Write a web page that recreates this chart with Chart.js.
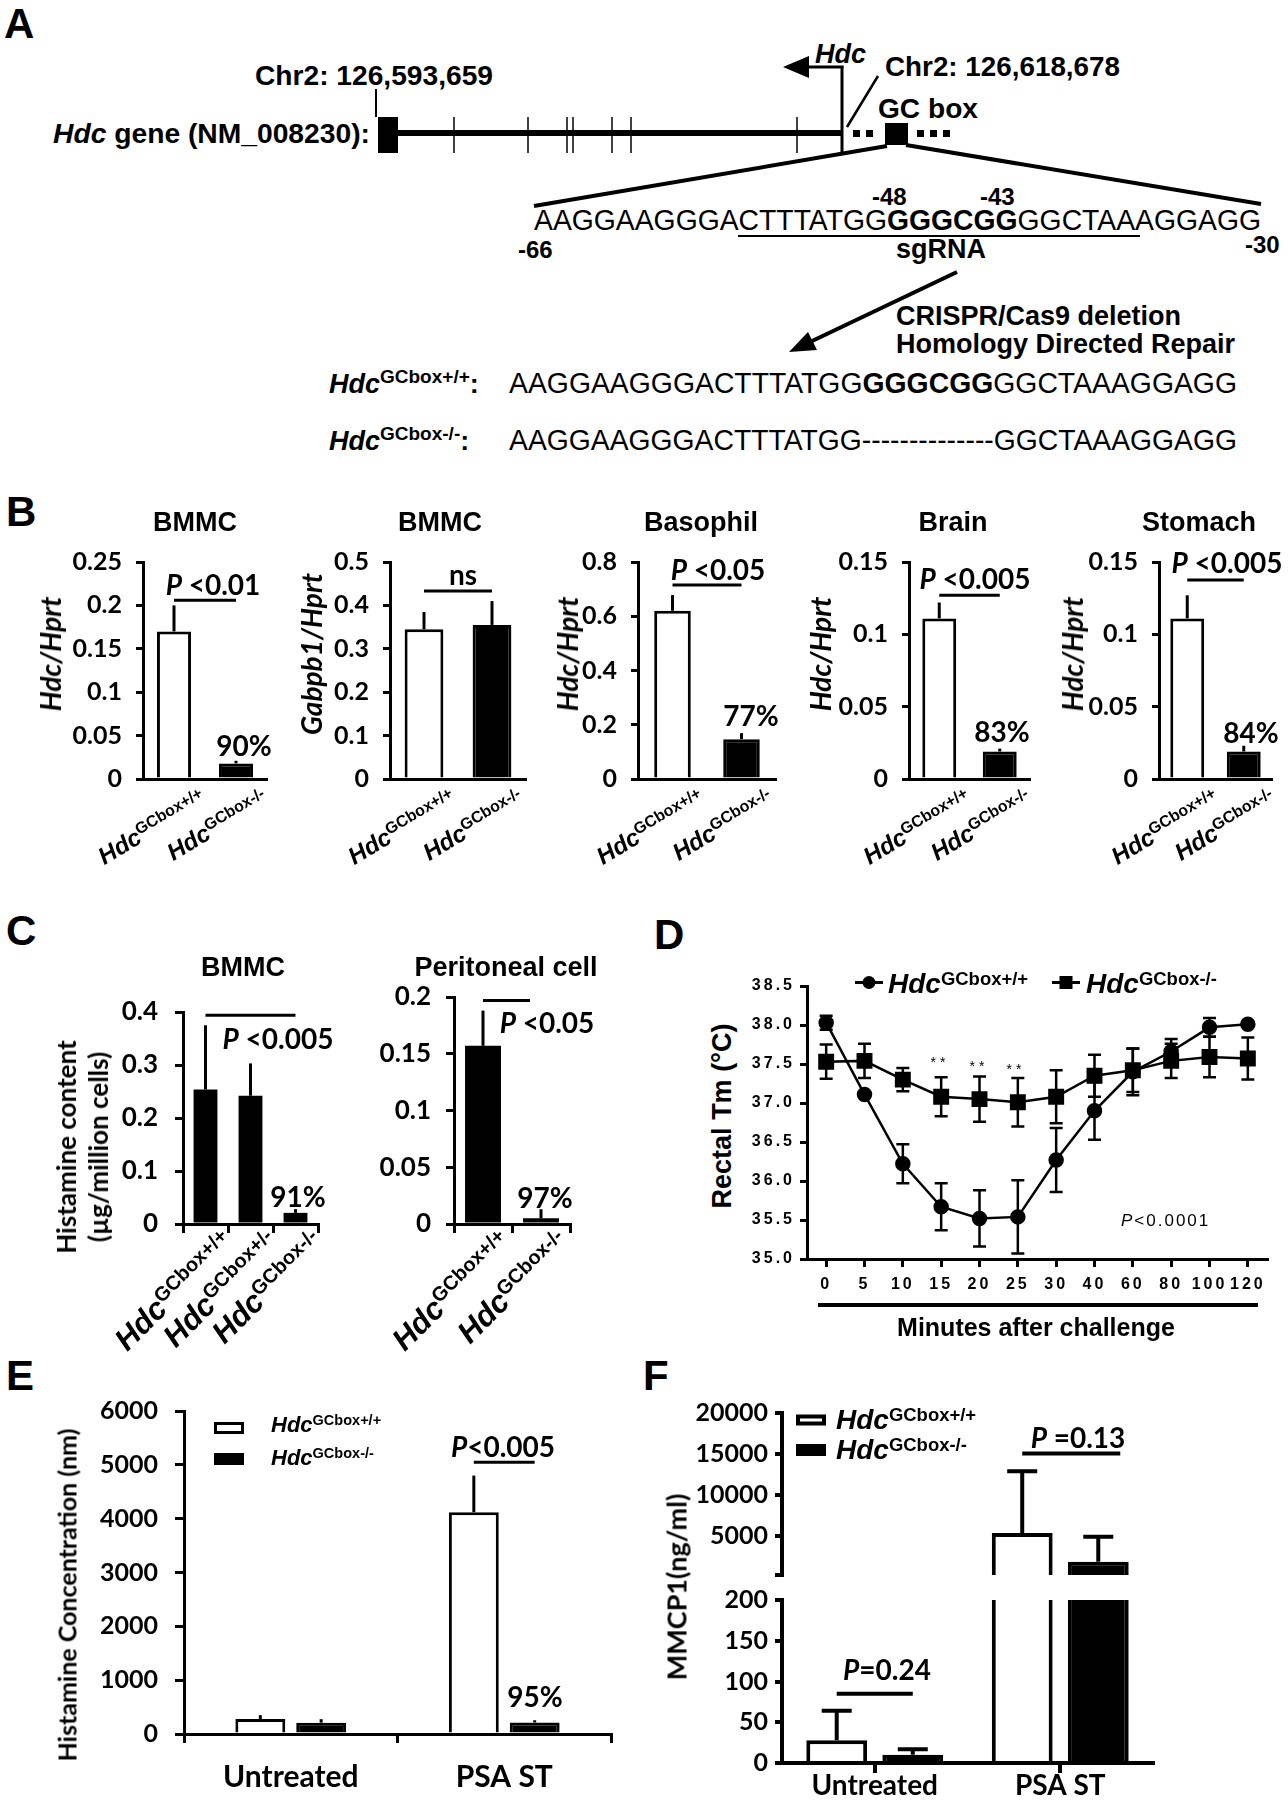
<!DOCTYPE html>
<html>
<head>
<meta charset="utf-8">
<title>Hdc GC box knockout</title>
<script src="https://cdn.jsdelivr.net/npm/chart.js@4.4.1/dist/chart.umd.min.js"></script>
<style>
  body { margin: 0; background: #fff; }
  #page { position: relative; width: 1288px; height: 1800px; overflow: hidden; background: #fff; color: #000; }
  #page canvas { position: absolute; }
  .t { position: absolute; white-space: nowrap; line-height: 1; }
  .ar { font-family: 'Liberation Sans', Arial, sans-serif; font-weight: bold; }
  .lt { font-family: Lato, 'Liberation Sans', sans-serif; font-weight: bold; }
  .sp { font-family: 'Liberation Sans', Arial, sans-serif; font-style: normal; font-weight: bold; font-size: 0.66em; position: relative; top: -0.45em; }
  .box { width: 24px; height: 6px; border: 3px solid #000; }
</style>
</head>
<body>
<div id="page">
<svg width="1288" height="470" style="position:absolute;left:0;top:0" font-family="'Liberation Sans', Arial, sans-serif" fill="#000" stroke="none">
  <text x="4" y="38" font-size="42" font-weight="bold">A</text>
  <text x="255" y="85" font-size="27" font-weight="bold" textLength="238" lengthAdjust="spacingAndGlyphs">Chr2: 126,593,659</text>
  <line x1="376" y1="89" x2="376" y2="117" stroke="#000" stroke-width="2"/>
  <text x="53" y="143" font-size="27" font-weight="bold" textLength="317" lengthAdjust="spacingAndGlyphs"><tspan font-style="italic">Hdc</tspan> gene (NM_008230):</text>
  <rect x="378" y="117" width="20" height="36"/>
  <line x1="398" y1="133" x2="842" y2="133" stroke="#000" stroke-width="6"/>
  <g stroke="#000" stroke-width="1.5">
    <line x1="454" y1="117" x2="454" y2="153"/>
    <line x1="528" y1="117" x2="528" y2="153"/>
    <line x1="567" y1="117" x2="567" y2="153"/>
    <line x1="573" y1="117" x2="573" y2="153"/>
    <line x1="612" y1="117" x2="612" y2="153"/>
    <line x1="631" y1="117" x2="631" y2="153"/>
    <line x1="797" y1="117" x2="797" y2="153"/>
  </g>
  <line x1="842" y1="66" x2="842" y2="153" stroke="#000" stroke-width="3"/>
  <line x1="806" y1="67" x2="843.5" y2="67" stroke="#000" stroke-width="3"/>
  <polygon points="783,67 809,56 809,78"/>
  <text x="815" y="63" font-size="27" font-weight="bold" font-style="italic">Hdc</text>
  <text x="885" y="76" font-size="28" font-weight="bold" textLength="235" lengthAdjust="spacingAndGlyphs">Chr2: 126,618,678</text>
  <line x1="847" y1="127" x2="878" y2="76" stroke="#000" stroke-width="2.5"/>
  <rect x="853" y="130" width="7" height="7"/>
  <rect x="866" y="130" width="7" height="7"/>
  <rect x="885" y="123" width="23" height="22"/>
  <rect x="917" y="130" width="7" height="7"/>
  <rect x="930" y="130" width="7" height="7"/>
  <rect x="943" y="130" width="7" height="7"/>
  <text x="878" y="118" font-size="27" font-weight="bold" textLength="100" lengthAdjust="spacingAndGlyphs">GC box</text>
  <line x1="887" y1="146" x2="534" y2="206" stroke="#000" stroke-width="4"/>
  <line x1="906" y1="145" x2="1261" y2="204" stroke="#000" stroke-width="4"/>
  <text x="872" y="205" font-size="24" font-weight="bold">-48</text>
  <text x="980" y="205" font-size="24" font-weight="bold">-43</text>
  <text x="534" y="230" font-size="29" textLength="727" lengthAdjust="spacingAndGlyphs">AAGGAAGGGACTTTATGG<tspan font-weight="bold">GGGCGG</tspan>GGCTAAAGGAGG</text>
  <line x1="738" y1="236" x2="1140" y2="236" stroke="#000" stroke-width="2"/>
  <text x="518" y="258" font-size="24" font-weight="bold">-66</text>
  <text x="896" y="258" font-size="27" font-weight="bold">sgRNA</text>
  <text x="1245" y="253" font-size="24" font-weight="bold">-30</text>
  <line x1="957" y1="272" x2="810" y2="342" stroke="#000" stroke-width="4"/>
  <polygon points="789,352 817,350 808,332"/>
  <text x="896" y="325" font-size="27" font-weight="bold">CRISPR/Cas9 deletion</text>
  <text x="896" y="353" font-size="27" font-weight="bold">Homology Directed Repair</text>
  <text x="329" y="393" font-size="27" font-weight="bold"><tspan font-style="italic">Hdc</tspan><tspan font-size="19" dy="-10">GCbox+/+</tspan><tspan dy="10">:</tspan></text>
  <text x="509" y="393" font-size="29" textLength="728" lengthAdjust="spacingAndGlyphs">AAGGAAGGGACTTTATGG<tspan font-weight="bold">GGGCGG</tspan>GGCTAAAGGAGG</text>
  <text x="329" y="450" font-size="27" font-weight="bold"><tspan font-style="italic">Hdc</tspan><tspan font-size="19" dy="-10">GCbox-/-</tspan><tspan dy="10">:</tspan></text>
  <text x="509" y="450" font-size="29" textLength="728" lengthAdjust="spacingAndGlyphs">AAGGAAGGGACTTTATGG--------------GGCTAAAGGAGG</text>
</svg>
</div>
<script>
// ---- B: Hdc (and Gabpb1) mRNA relative to Hprt ----
const genoB = ['GCbox+/+', 'GCbox-/-'];
const bmmcHdc = [0.17, 0.018];
const bmmcHdcErr = [0.03, 0.003];
const bmmcGabpb1 = [0.345, 0.355];
const bmmcGabpb1Err = [0.04, 0.055];
const basoHdc = [0.62, 0.147];
const basoHdcErr = [0.058, 0.022];
const brainHdc = [0.111, 0.019];
const brainHdcErr = [0.011, 0.002];
const stomachHdc = [0.111, 0.019];
const stomachHdcErr = [0.016, 0.004];

// ---- C: histamine content (ug/million cells) ----
const genoC = ['GCbox+/+', 'GCbox+/-', 'GCbox-/-'];
const bmmcHist = [0.254, 0.242, 0.021];
const bmmcHistErr = [0.121, 0.061, 0.007];
const genoC2 = ['GCbox+/+', 'GCbox-/-'];
const periHist = [0.157, 0.005];
const periHistErr = [0.031, 0.008];

// ---- D: rectal temperature after challenge ----
const minutes = ['0', '5', '10', '15', '20', '25', '30', '40', '60', '80', '100', '120'];
const tmWT = [38.03, 37.11, 36.22, 35.67, 35.52, 35.54, 36.27, 36.90, 37.40, 37.66, 37.97, 38.01];
const tmWTErr = [0.09, 0.02, 0.25, 0.30, 0.36, 0.47, 0.41, 0.37, 0.30, 0.16, 0.12, 0.02];
const tmKO = [37.53, 37.54, 37.30, 37.08, 37.05, 37.01, 37.08, 37.35, 37.42, 37.54, 37.59, 37.57];
const tmKOErr = [0.22, 0.22, 0.15, 0.25, 0.29, 0.31, 0.34, 0.27, 0.28, 0.22, 0.26, 0.27];

// ---- E: plasma histamine (nm) ----
const treatments = ['Untreated', 'PSA ST'];
const histWT = [280, 4120];
const histWTErr = [70, 680];
const histKO = [210, 215];
const histKOErr = [65, 40];

// ---- F: MMCP1 (ng/ml), broken axis ----
const mmcpWT = [28, 5340];
const mmcpWTErr = [36, 7550];
const mmcpKO = [10, 1830];
const mmcpKOErr = [7, 3030];
const fUpperTicks = [200, 5000, 10000, 15000, 20000];

const K = '#000';
const page = document.getElementById('page');
const lato = s => ({ family: 'Lato', weight: 'bold', size: s });
const arialB = s => ({ family: 'Liberation Sans', weight: 'bold', size: s });

// error bars (up only for bars, both ways for the line chart)
function drawErr(chart) {
  const ctx = chart.ctx, y = chart.scales.y;
  chart.data.datasets.forEach((ds, di) => {
    if (!ds.err) return;
    const meta = chart.getDatasetMeta(di);
    ctx.save();
    ctx.strokeStyle = K;
    ctx.lineWidth = ds.errWidth || 3;
    meta.data.forEach((el, i) => {
      const v = ds.data[i], e = ds.err[i];
      if (v < y.min || v > y.max) return;
      const top = y.getPixelForValue(v + e);
      const bot = y.getPixelForValue(ds.errBoth ? v - e : v);
      const c = (ds.errCap || 0) / 2;
      ctx.beginPath();
      ctx.moveTo(el.x, bot);
      ctx.lineTo(el.x, top);
      if (c) {
        ctx.moveTo(el.x - c, top); ctx.lineTo(el.x + c, top);
        if (ds.errBoth) { ctx.moveTo(el.x - c, bot); ctx.lineTo(el.x + c, bot); }
      }
      ctx.stroke();
    });
    ctx.restore();
  });
}
const errorBars = {
  id: 'errorBars',
  beforeDatasetsDraw(chart) { if (chart.config.type === 'line') drawErr(chart); },
  afterDatasetsDraw(chart) { if (chart.config.type !== 'line') drawErr(chart); }
};

// significance bars between two bars
const sigLines = {
  id: 'sigLines',
  afterDatasetsDraw(chart) {
    const list = chart.data.sig;
    if (!list) return;
    const ctx = chart.ctx, y = chart.scales.y;
    ctx.save();
    ctx.strokeStyle = K;
    ctx.lineWidth = chart.data.sigWidth || 3;
    list.forEach(l => {
      const a = chart.getDatasetMeta(l.from[0]).data[l.from[1]];
      const b = chart.getDatasetMeta(l.to[0]).data[l.to[1]];
      const py = y.getPixelForValue(l.y);
      ctx.beginPath();
      ctx.moveTo(a.x + (l.dx0 || 0), py);
      ctx.lineTo(b.x + (l.dx1 || 0), py);
      ctx.stroke();
    });
    ctx.restore();
  }
};

// rotated genotype labels with superscript
const richLabels = {
  id: 'richLabels',
  afterDraw(chart) {
    const r = chart.data.rich;
    if (!r) return;
    const ctx = chart.ctx, xs = chart.scales.x;
    ctx.save();
    ctx.fillStyle = K;
    ctx.textAlign = 'left';
    ctx.textBaseline = 'alphabetic';
    chart.data.labels.forEach((lab, i) => {
      const sup = r.sups[i];
      ctx.font = r.supFont;
      const ws = ctx.measureText(sup).width;
      ctx.font = r.mainFont;
      const wm = ctx.measureText(r.main).width;
      ctx.save();
      ctx.translate(xs.getPixelForValue(i) + r.dx, xs.top + r.dy);
      ctx.rotate(-r.angle * Math.PI / 180);
      ctx.fillText(r.main, -ws - wm, 0);
      ctx.font = r.supFont;
      ctx.fillText(sup, -ws, -r.raise);
      ctx.restore();
    });
    ctx.restore();
  }
};

const spacedText = {
  id: 'spacedText',
  beforeDraw(chart) { if (chart.data.spacing) chart.ctx.letterSpacing = chart.data.spacing; },
  afterDraw(chart) { chart.ctx.letterSpacing = '0px'; }
};

Chart.register(errorBars, sigLines, richLabels, spacedText);

// place a chart so that its plot area lands on given page coordinates
function mk(g, cfg) {
  const padL = 4, padT = g.padT || 36, padR = g.padR || 24;
  const hideX = cfg.options.scales.x.display === false;
  const padB = hideX ? (g.padB || 30) : 0;
  const left = g.ax - g.yw - padL, top = g.top - padT;
  const w = Math.round(g.right + padR - left);
  const h = Math.round(g.bot - top + (hideX ? padB : g.xh));
  const c = document.createElement('canvas');
  c.width = w; c.height = h;
  Object.assign(c.style, { left: left + 'px', top: top + 'px', width: w + 'px', height: h + 'px' });
  page.appendChild(c);
  const o = cfg.options;
  o.responsive = false;
  o.animation = false;
  o.devicePixelRatio = 1;
  o.layout = { padding: { left: padL, top: padT, right: padR, bottom: padB } };
  o.plugins = Object.assign({ legend: { display: false }, tooltip: { enabled: false } }, o.plugins || {});
  o.scales.y.afterFit = s => { s.width = g.yw; };
  if (!hideX) o.scales.x.afterFit = s => { s.height = g.xh; };
  return new Chart(c, cfg);
}

const plain = v => String(Math.round(v * 1e6) / 1e6);
function yAxis(min, max, step, font, pad, tl, lw, cb) {
  return {
    min, max,
    ticks: { stepSize: step, font, color: K, padding: pad, callback: cb || plain },
    grid: { drawOnChartArea: false, color: K, lineWidth: lw, tickLength: tl },
    border: { color: K, width: lw }
  };
}
const xPlain = lw => ({ ticks: { display: false }, grid: { display: false }, border: { color: K, width: lw } });
const xTicked = (lw, tl) => ({
  ticks: { display: false },
  grid: { drawOnChartArea: false, color: K, lineWidth: lw, tickLength: tl },
  border: { color: K, width: lw }
});
const richB = sups => ({ main: 'Hdc', sups, mainFont: 'italic bold 24px "Liberation Sans"', supFont: 'bold 16px "Liberation Sans"', raise: 8, angle: 31, dx: 34, dy: 24 });
const richC = sups => ({ main: 'Hdc', sups, mainFont: 'italic bold 31px "Liberation Sans"', supFont: 'bold 20px "Liberation Sans"', raise: 10, angle: 45, dx: 30, dy: 20 });

// ---------- panel B ----------
const bCharts = [
  { g: { ax: 143, right: 267 }, vals: bmmcHdc, errs: bmmcHdcErr, range: [0, 0.25, 0.05], sig: 0.206, cat: 0.55 },
  { g: { ax: 390, right: 526 }, vals: bmmcGabpb1, errs: bmmcGabpb1Err, range: [0, 0.5, 0.1], sig: 0.433, cat: 0.57 },
  { g: { ax: 638, right: 776 }, vals: basoHdc, errs: basoHdcErr, range: [0, 0.8, 0.2], sig: 0.715, cat: 0.53 },
  { g: { ax: 909, right: 1030 }, vals: brainHdc, errs: brainHdcErr, range: [0, 0.15, 0.05], sig: 0.127, cat: 0.56 },
  { g: { ax: 1159, right: 1272 }, vals: stomachHdc, errs: stomachHdcErr, range: [0, 0.15, 0.05], sig: 0.1376, cat: 0.6 }
];
bCharts.forEach(b => {
  Object.assign(b.g, { top: 562, bot: 779, yw: 85, xh: 95, padR: 16 });
  mk(b.g, {
    type: 'bar',
    data: {
      labels: genoB.map(s => 'Hdc' + s),
      rich: richB(genoB),
      sig: [{ from: [0, 0], to: [0, 1], y: b.sig }],
      datasets: [{
        data: b.vals, err: b.errs,
        backgroundColor: ['#fff', K], borderColor: K, borderWidth: 3,
        categoryPercentage: b.cat, barPercentage: 1
      }]
    },
    options: { scales: { x: xPlain(3), y: yAxis(b.range[0], b.range[1], b.range[2], lato(25), 14, 7, 3) } }
  });
});

// ---------- panel C ----------
mk({ ax: 183, top: 1012, bot: 1224, right: 318, yw: 95, xh: 135, padR: 30 }, {
  type: 'bar',
  data: {
    labels: genoC.map(s => 'Hdc' + s),
    rich: richC(genoC),
    sig: [{ from: [0, 0], to: [0, 2], y: 0.394 }],
    datasets: [{ data: bmmcHist, err: bmmcHistErr, backgroundColor: K, borderColor: K, borderWidth: 0, categoryPercentage: 0.53, barPercentage: 1 }]
  },
  options: { scales: { x: xTicked(3, 9), y: yAxis(0, 0.4, 0.1, lato(26), 17, 8, 3) } }
});
mk({ ax: 454, top: 997, bot: 1224, right: 570, yw: 95, xh: 135, padR: 30 }, {
  type: 'bar',
  data: {
    labels: genoC2.map(s => 'Hdc' + s),
    rich: richC(genoC2),
    sig: [{ from: [0, 0], to: [0, 1], y: 0.197, dx1: -11 }],
    datasets: [{ data: periHist, err: periHistErr, backgroundColor: K, borderColor: K, borderWidth: 0, categoryPercentage: 0.62, barPercentage: 1 }]
  },
  options: { scales: { x: xTicked(3, 9), y: yAxis(0, 0.2, 0.05, lato(26), 15, 8, 3) } }
});

// ---------- panel D ----------
mk({ ax: 807, top: 986, bot: 1259, right: 1267, yw: 60, xh: 45, padT: 20, padR: 15 }, {
  type: 'line',
  data: {
    labels: minutes,
    spacing: '3px',
    datasets: [
      { data: tmWT, err: tmWTErr, errBoth: true, errCap: 13, errWidth: 2.5, borderColor: K, borderWidth: 2.5,
        pointStyle: 'circle', pointRadius: 6.5, pointBackgroundColor: K, pointBorderColor: K, tension: 0 },
      { data: tmKO, err: tmKOErr, errBoth: true, errCap: 13, errWidth: 2.5, borderColor: K, borderWidth: 2.5,
        pointStyle: 'rect', pointRadius: 9.5, pointBackgroundColor: K, pointBorderColor: K, tension: 0 }
    ]
  },
  options: {
    scales: {
      x: {
        offset: true,
        ticks: { font: arialB(16), color: K, padding: 8, maxRotation: 0, autoSkip: false },
        grid: { offset: false, drawOnChartArea: false, color: K, lineWidth: 3, tickLength: 8 },
        border: { color: K, width: 3 }
      },
      y: yAxis(35, 38.5, 0.5, arialB(16), 5, 7, 3, v => v.toFixed(1))
    }
  }
});

// ---------- panel E ----------
mk({ ax: 184, top: 1411, bot: 1734, right: 611, yw: 100, xh: 66, padR: 20 }, {
  type: 'bar',
  data: {
    labels: treatments,
    sig: [{ from: [0, 1], to: [1, 1], y: 5050 }],
    datasets: [
      { data: histWT, err: histWTErr, backgroundColor: '#fff', borderColor: K, borderWidth: 3, categoryPercentage: 0.57, barPercentage: 0.82 },
      { data: histKO, err: histKOErr, backgroundColor: K, borderColor: K, borderWidth: 3, categoryPercentage: 0.57, barPercentage: 0.82 }
    ]
  },
  options: {
    scales: {
      x: {
        ticks: { font: lato(30), color: K, padding: 16 },
        grid: { drawOnChartArea: false, color: K, lineWidth: 3, tickLength: 9 },
        border: { color: K, width: 3 }
      },
      y: yAxis(0, 6000, 1000, lato(25), 17, 9, 3)
    }
  }
});

// ---------- panel F (two segments of one broken axis) ----------
const fBars = () => [
  { data: mmcpWT, err: mmcpWTErr, errCap: 30, errWidth: 4, backgroundColor: '#fff', borderColor: K, borderWidth: 4, categoryPercentage: 0.82, barPercentage: 0.8, clip: 0 },
  { data: mmcpKO, err: mmcpKOErr, errCap: 30, errWidth: 4, backgroundColor: K, borderColor: K, borderWidth: 4, categoryPercentage: 0.82, barPercentage: 0.8, clip: 0 }
];
const fUpperY = yAxis(200, 20000, 5000, lato(25), 7, 7, 4, v => (v % 5000 === 0 ? String(v) : ''));
fUpperY.afterBuildTicks = s => { s.ticks = fUpperTicks.map(v => ({ value: v })); };
mk({ ax: 782, top: 1413, bot: 1575, right: 1153, yw: 100, padR: 20 }, {
  type: 'bar',
  data: { labels: treatments, sigWidth: 4, sig: [{ from: [0, 1], to: [1, 1], y: 15050, dx1: 22 }], datasets: fBars() },
  options: { scales: { x: { display: false }, y: fUpperY } }
});
mk({ ax: 782, top: 1600, bot: 1763, right: 1153, yw: 100, xh: 37, padR: 20 }, {
  type: 'bar',
  data: { labels: treatments, sigWidth: 4, sig: [{ from: [0, 0], to: [1, 0], y: 85 }], datasets: fBars() },
  options: {
    scales: {
      x: {
        ticks: { font: lato(28), color: K, padding: -4 },
        grid: { offset: false, drawOnChartArea: false, color: K, lineWidth: 4, tickLength: 10 },
        border: { color: K, width: 4 }
      },
      y: yAxis(0, 200, 50, lato(25), 7, 7, 4)
    }
  }
});

// ---------- text ----------
function put(html, x, y, css, anchor, cls) {
  const d = document.createElement('div');
  d.className = 't ' + (cls || '');
  d.innerHTML = html;
  d.style.cssText += css || '';
  d.style.left = x + 'px';
  d.style.top = y + 'px';
  const tx = anchor === 'c' ? '-50%' : anchor === 'r' ? '-100%' : '0';
  d.style.transform = 'translate(' + tx + ',-50%)';
  page.appendChild(d);
  return d;
}
function putV(html, cx, cy, css, cls) {
  const d = put(html, cx, cy, css, 'c', cls);
  d.style.transform = 'translate(-50%,-50%) rotate(-90deg)';
  d.style.textAlign = 'center';
  return d;
}
const hdc = g => '<i>Hdc</i><span class="sp">' + g + '</span>';

// panel letters
put('B', 6, 512, 'font-size:42px', 'l', 'ar');
put('C', 6, 931, 'font-size:42px', 'l', 'ar');
put('D', 654, 935, 'font-size:42px', 'l', 'ar');
put('E', 6, 1376, 'font-size:42px', 'l', 'ar');
put('F', 643, 1376, 'font-size:42px', 'l', 'ar');

// B
[['BMMC', 195], ['BMMC', 440], ['Basophil', 701], ['Brain', 953], ['Stomach', 1199]].forEach(([s, x]) => put(s, x, 522, 'font-size:27px', 'c', 'ar'));
[['Hdc/Hprt', 50], ['Gabpb1/Hprt', 311], ['Hdc/Hprt', 567], ['Hdc/Hprt', 820], ['Hdc/Hprt', 1072]].forEach(([s, x]) =>
  putV('<i>' + s + '</i>', x, 654, 'font-size:28px', 'lt'));
put('<i>P</i> &lt;0.01', 213, 584, 'font-size:28px', 'c', 'lt');
put('90%', 244, 745, 'font-size:28px', 'c', 'lt');
put('ns', 463, 574, 'font-size:28px', 'c', 'lt');
put('<i>P</i> &lt;0.05', 718, 569, 'font-size:28px', 'c', 'lt');
put('77%', 751, 715, 'font-size:28px', 'c', 'lt');
put('<i>P</i> &lt;0.005', 975, 578, 'font-size:28px', 'c', 'lt');
put('83%', 1002, 731, 'font-size:28px', 'c', 'lt');
put('<i>P</i> &lt;0.005', 1227, 562, 'font-size:28px', 'c', 'lt');
put('84%', 1251, 732, 'font-size:28px', 'c', 'lt');

// C
put('BMMC', 243, 967, 'font-size:27px', 'c', 'ar');
put('Peritoneal cell', 506, 967, 'font-size:27px', 'c', 'ar');
putV('Histamine content<br>(µg/million cells)', 82, 1147, 'font-size:26px;line-height:32px', 'lt');
put('<i>P</i> &lt;0.005', 278, 1038, 'font-size:28px', 'c', 'lt');
put('91%', 298, 1196, 'font-size:28px', 'c', 'lt');
put('<i>P</i> &lt;0.05', 547, 1022, 'font-size:28px', 'c', 'lt');
put('97%', 545, 1197, 'font-size:28px', 'c', 'lt');

// D
put('<svg width="28" height="16"><line x1="0" y1="8" x2="28" y2="8" stroke="#000" stroke-width="3"/><circle cx="14" cy="8" r="6.5"/></svg>', 855, 984, '', 'l');
put(hdc('GCbox+/+'), 888, 984, 'font-size:28px', 'l', 'ar');
put('<svg width="28" height="16"><line x1="0" y1="8" x2="28" y2="8" stroke="#000" stroke-width="3"/><rect x="7.5" y="1.5" width="13" height="13"/></svg>', 1052, 984, '', 'l');
put(hdc('GCbox-/-'), 1086, 984, 'font-size:28px', 'l', 'ar');
[[940, 1062], [979, 1066], [1016, 1069]].forEach(([x, y]) => put('**', x, y, 'font-family:"Liberation Sans";font-size:14px;letter-spacing:4px', 'c'));
put('<i>P</i>&lt;0.0001', 1121, 1220, 'font-family:"Liberation Sans";font-size:17px;letter-spacing:2px', 'l');
putV('Rectal Tm (°C)', 722, 1116, 'font-size:27px', 'ar');
put('<div style="width:440px;height:4px;background:#000"></div>', 818, 1305, '', 'l');
put('Minutes after challenge', 1036, 1327, 'font-size:25px', 'c', 'ar');

// E
put('<div class="box" style="background:#fff"></div>', 214, 1428, '', 'l');
put('<div class="box" style="background:#000"></div>', 214, 1459, '', 'l');
put(hdc('GCbox+/+'), 271, 1425, 'font-size:22px', 'l', 'ar');
put(hdc('GCbox-/-'), 271, 1458, 'font-size:22px', 'l', 'ar');
put('<i>P</i>&lt;0.005', 503, 1446, 'font-size:28px', 'c', 'lt');
put('95%', 535, 1696, 'font-size:28px', 'c', 'lt');
putV('Histamine Concentration (nm)', 67, 1595, 'font-size:25px', 'lt');

// F
put('<div class="box" style="background:#fff;border-width:4px;height:3px;width:22px"></div>', 796, 1420, '', 'l');
put('<div class="box" style="background:#000"></div>', 796, 1450, '', 'l');
put(hdc('GCbox+/+'), 836, 1420, 'font-size:28px', 'l', 'ar');
put(hdc('GCbox-/-'), 836, 1450, 'font-size:28px', 'l', 'ar');
put('<i>P</i> =0.13', 1078, 1437, 'font-size:28px', 'c', 'lt');
put('<i>P</i>=0.24', 887, 1669, 'font-size:28px', 'c', 'lt');
putV('MMCP1(ng/ml)', 676, 1587, 'font-size:27px', 'lt');
</script>
</body>
</html>
